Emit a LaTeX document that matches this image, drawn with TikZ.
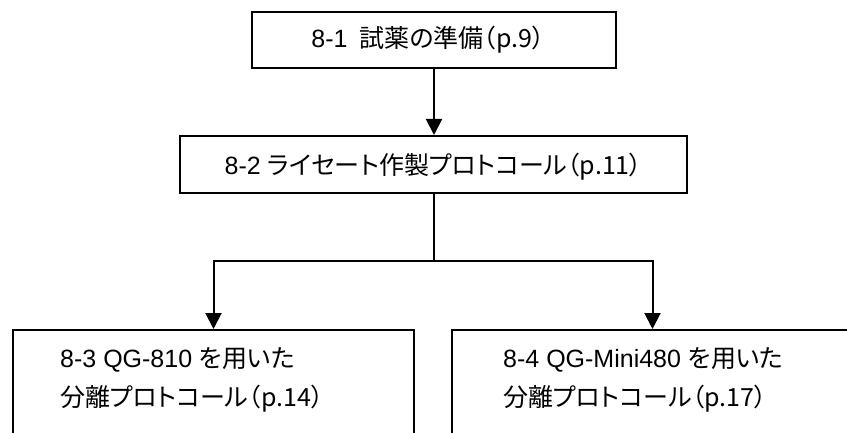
\documentclass[tikz,border=0pt]{standalone}
\usepackage{fontspec}
\setmainfont{Liberation Sans}
\newfontfamily\jp[RawFeature=+palt]{Noto Sans CJK JP}
\usetikzlibrary{arrows.meta}
\begin{document}
\begin{tikzpicture}[x=1pt,y=-1pt,
  box/.style={draw, line width=2pt, inner sep=0pt, minimum width=#1},
  txt/.style={font=\fontsize{25}{39}\selectfont, inner sep=0pt, align=left},
  conn/.style={line width=2pt},
  arr/.style={conn, -{Triangle[width=16pt,length=16pt]}}]
\useasboundingbox (0,0) rectangle (847,433);
\clip (0,0) rectangle (847,433);
\node[box=364pt, minimum height=56pt] (b1) at (434,40) {};
\node[txt] (t1) at ([xshift=-6pt]b1.center) {8-1\hspace{12pt}\jp{試薬の準備（}p.9\jp{）}};
\node[box=507pt, minimum height=57pt] (b2) at (433.5,164.5) {};
\node[txt] (t2) at ([yshift=-2pt]b2.center) {8-2 \jp{ライセート作製プロトコール（}p.11\jp{）}};
\node[box=401pt, minimum height=150pt, anchor=north west] (b3) at (12,329) {};
\node[txt, anchor=north west] (t3) at (60,347) {8-3 QG-810 \jp{を用いた}\\\jp{分離プロトコール（}p.14\jp{）}};
\node[box=401pt, minimum height=150pt, anchor=north west] (b4) at (451,329) {};
\node[txt, anchor=north west] (t4) at (503,347) {8-4 QG-Mini480 \jp{を用いた}\\\jp{分離プロトコール（}p.17\jp{）}};
\coordinate (split) at (434,261);
\draw[arr] (b1.south) -- (b1.south |- b2.north);
\draw[conn] (b2.south -| split) -- (split);
\draw[arr] (split) -| (b3.north);
\draw[arr] (split) -| (b4.north);
\end{tikzpicture}
\end{document}
